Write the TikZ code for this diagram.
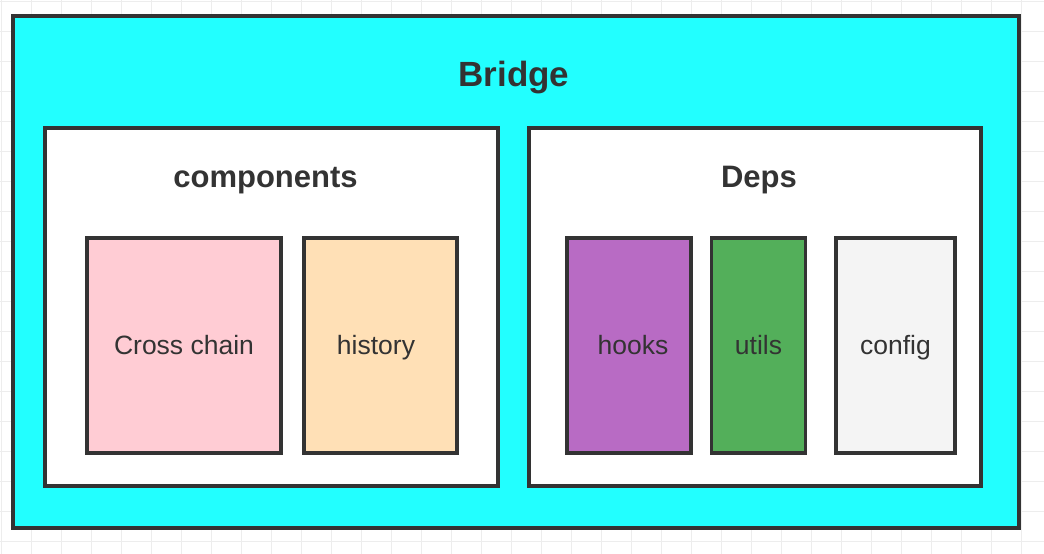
\documentclass[tikz,border=0pt]{standalone}
\usepackage{fontspec}
\setmainfont{Liberation Sans}
\usepackage{xcolor}
\usetikzlibrary{positioning}

\definecolor{gridline}{HTML}{EDEDED}
\definecolor{edge}{HTML}{333333}
\definecolor{bridgefill}{HTML}{22FFFF}
\definecolor{crossfill}{HTML}{FFCCD4}
\definecolor{histfill}{HTML}{FFE0B6}
\definecolor{hookfill}{HTML}{B86BC4}
\definecolor{utilfill}{HTML}{53AF5A}
\definecolor{conffill}{HTML}{F4F4F4}

\tikzset{
    box/.style={draw=edge, line width=3.2pt, inner sep=0pt},
    part/.style={box, minimum height=215pt, text height=20pt, text depth=3pt, text=edge, font=\fontsize{26.5}{30}\selectfont},
    title/.style={anchor=base, text=edge, font=\bfseries\fontsize{31}{36}\selectfont}
}

\begin{document}
\begin{tikzpicture}[x=1pt, y=-1pt]
    \useasboundingbox (0,0) rectangle (1044,554);
    \fill[white] (0,0) rectangle (1044,554);
    % background grid
    \foreach \gx in {1,31,...,1041} \draw[gridline, line width=1pt] (\gx,0) -- (\gx,554);
    \foreach \gy in {1,31,...,541} \draw[gridline, line width=1pt] (0,\gy) -- (1044,\gy);

    \node [box, fill=bridgefill, minimum width=1006pt, minimum height=512pt] (bridge) at (516,272) {};
    \node [box, fill=white, minimum width=453pt, minimum height=358pt] (comp) at (271.5,307) {};
    \node [box, fill=white, minimum width=452pt, minimum height=358pt] (deps) at (755,307) {};

    \node [title, font=\bfseries\fontsize{35}{40}\selectfont] (bridgetitle) at (514,86) {Bridge};
    \node [title] (comptitle) at (265.5,187) {components};
    \node [title] (depstitle) at (759,187) {Deps};

    \node [part, fill=crossfill, minimum width=194pt] (cross) at (184,345.5) {Cross chain};
    \node [part, fill=histfill, minimum width=153pt] (hist) at (380.5,345.5) {\hspace*{-9pt}history};
    \node [part, fill=hookfill, minimum width=124pt] (hooks) at (629,345.5) {\hspace*{8pt}hooks};
    \node [part, fill=utilfill, minimum width=94pt] (utils) at (758.5,345.5) {utils};
    \node [part, fill=conffill, minimum width=119pt] (config) at (895.5,345.5) {config};
\end{tikzpicture}
\end{document}
